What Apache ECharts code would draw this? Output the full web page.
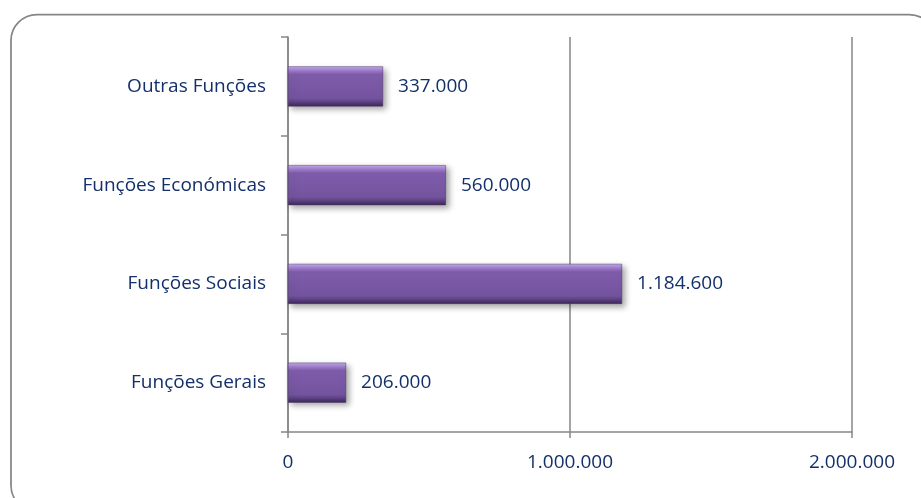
<!DOCTYPE html>
<html>
<head>
<meta charset="utf-8">
<script src="https://cdn.jsdelivr.net/npm/echarts@6/dist/echarts.min.js"></script>
<style>html,body{margin:0;padding:0;background:#fff;}#c{width:921px;height:498px;}</style>
</head>
<body>
<div id="c"></div>
<script>
const categories = ['Funções Gerais', 'Funções Sociais', 'Funções Económicas', 'Outras Funções'];
const values = [206000, 1184600, 560000, 337000];
const tickValues = [0, 1000000, 2000000];

function fmt(v) {
  return String(Math.round(v)).replace(/\B(?=(\d{3})+(?!\d))/g, '.');
}

const textColor = '#13306b';
const fontFamily = 'Open Sans, Liberation Sans, sans-serif';
const fontSize = 19;

const chart = echarts.init(document.getElementById('c'));
chart.setOption({
  animation: false,
  backgroundColor: '#ffffff',
  graphic: [{
    type: 'rect',
    shape: { x: 11, y: 14.5, width: 924, height: 497, r: 26 },
    style: { fill: 'none', stroke: '#868686', lineWidth: 1.75 },
    z: -1
  }],
  grid: { left: 288, right: 69, top: 37, bottom: 66, containLabel: false },
  xAxis: {
    type: 'value',
    min: 0, max: 2000000, interval: 1000000,
    axisLine: { show: true, lineStyle: { color: '#868686', width: 1.5 } },
    axisTick: { show: true, length: 6, lineStyle: { color: '#868686', width: 1.5 } },
    splitLine: { show: true, lineStyle: { color: '#868686', width: 1.5 } },
    axisLabel: { color: textColor, fontSize: fontSize, fontFamily: fontFamily, margin: 21, formatter: fmt,
      customValues: tickValues }
  },
  yAxis: {
    type: 'category',
    data: categories,
    axisLine: { show: true, lineStyle: { color: '#868686', width: 1.5 } },
    axisTick: { show: true, length: 7, lineStyle: { color: '#868686', width: 1.5 } },
    axisLabel: { color: textColor, fontSize: fontSize, fontFamily: fontFamily, margin: 22 }
  },
  series: [{
    type: 'bar',
    data: values,
    barWidth: 40,
    itemStyle: {
      color: {
        type: 'linear', x: 0, y: 0, x2: 0, y2: 1,
        colorStops: [
          { offset: 0, color: '#c6a8f0' },
          { offset: 0.12, color: '#9a79c8' },
          { offset: 0.2, color: '#7f5cab' },
          { offset: 0.8, color: '#73539e' },
          { offset: 0.9, color: '#5a3f80' },
          { offset: 1, color: '#3a2755' }
        ]
      },
      borderColor: '#4a3468',
      borderWidth: 0.5,
      shadowColor: 'rgba(0,0,0,0.35)',
      shadowBlur: 6,
      shadowOffsetX: 3,
      shadowOffsetY: 3
    },
    label: {
      show: true,
      position: 'right',
      distance: 15,
      color: textColor,
      fontSize: fontSize,
      fontFamily: fontFamily,
      formatter: p => fmt(p.value)
    }
  }]
});
</script>
</body>
</html>
